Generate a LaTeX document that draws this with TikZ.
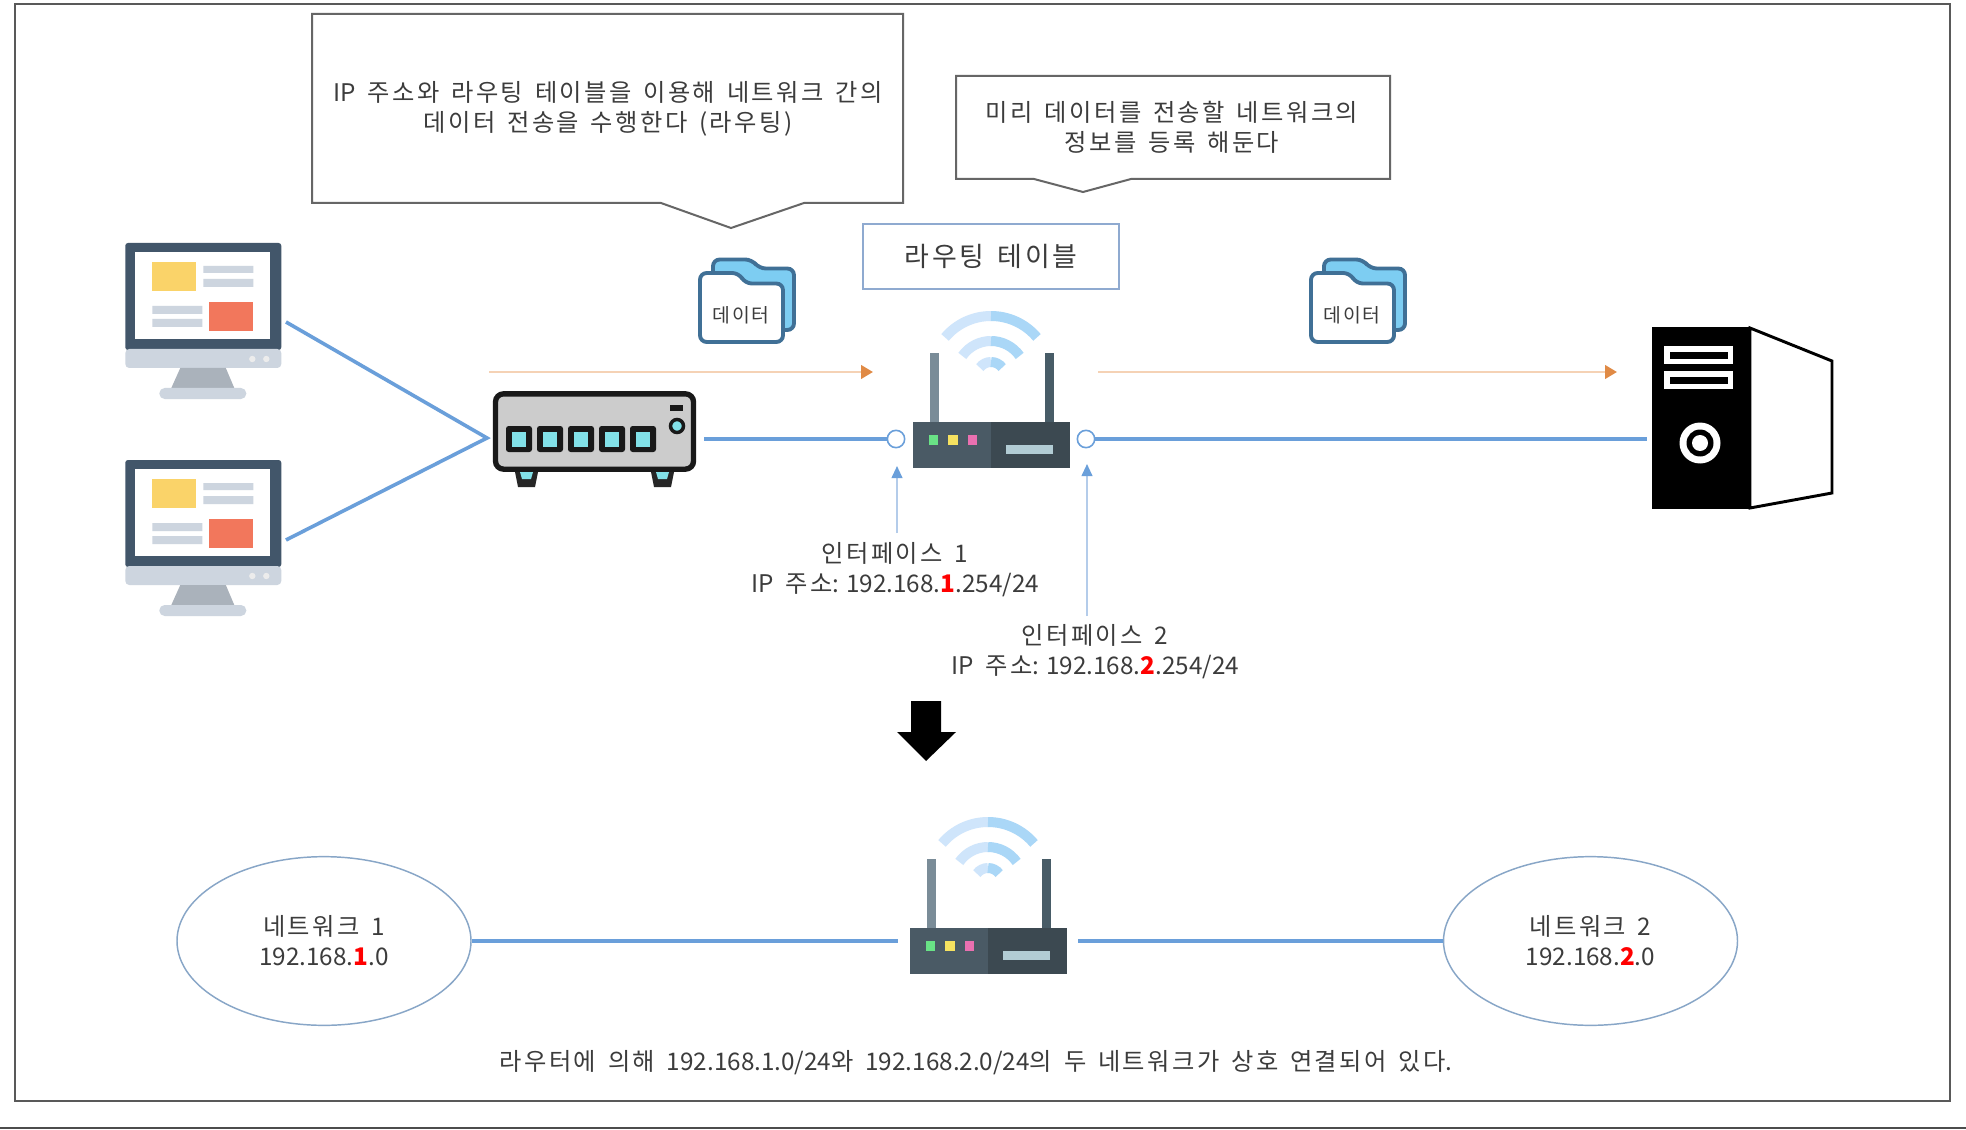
\documentclass[tikz,border=0pt]{standalone}
\usepackage{fontspec}
\setmainfont{Noto Sans CJK KR}[LetterSpace=10,WordSpace=1.5]
\newfontfamily\lat{Noto Sans CJK KR}
\usetikzlibrary{shapes.geometric,arrows.meta}
\definecolor{wire}{HTML}{6A9FDA}
\definecolor{txt}{HTML}{3C3C3C}
\definecolor{orangeline}{HTML}{F5D2B5}
\definecolor{orangetip}{HTML}{E08A45}
\definecolor{thinblue}{HTML}{B4CCEA}
\definecolor{thintip}{HTML}{6A9FDA}
\newcommand{\rd}[1]{\textcolor{red}{\lat\bfseries #1}}
\tikzset{
  lbl/.style={text=txt,font=\fontsize{18.2pt}{22.5pt}\selectfont,align=center,inner sep=0pt},
  wireline/.style={draw=wire,line width=2.7pt},
  flow/.style={draw=orangeline,line width=2.2pt,-{Triangle[length=9pt,width=10pt,color=orangetip]}},
  pointer/.style={draw=thinblue,line width=1.4pt,-{Triangle[length=9pt,width=8pt,color=thintip]}},
  callout/.style={draw=black!60,fill=white,line width=1.5pt,line join=miter},
  port/.style={circle,draw=wire,fill=white,line width=1.2pt,minimum size=13pt,inner sep=0pt},
  netell/.style={ellipse,draw=wire!80!black!70,line width=1.1pt,minimum width=220.5pt,minimum height=126.5pt,inner sep=0pt,text=txt,font=\fontsize{18.2pt}{22.5pt}\selectfont,align=center},
}
\newcommand{\monitor}[2]{% name, y shift
 \begin{scope}[shift={(-0.7,#2)}]
  \fill[color={rgb,255:red,66;green,86;blue,106},rounded corners=2pt] (126,243) rectangle (282,350);
  \fill[color={rgb,255:red,205;green,213;blue,223},rounded corners=3pt] (126,349) rectangle (282,368);
  \fill[white] (136,252) rectangle (271,339);
  \fill[color={rgb,255:red,250;green,211;blue,105}] (152.5,262) rectangle (197,291);
  \fill[color={rgb,255:red,205;green,213;blue,223}] (204,266) rectangle (254,273) (204,279) rectangle (254,287) (153,306) rectangle (203,314) (153,319) rectangle (203,327);
  \fill[color={rgb,255:red,242;green,119;blue,92}] (210,302) rectangle (254,331);
  \fill[white!85!gray] (253,359) circle (3.2) (267,359) circle (3.2);
  \fill[color={rgb,255:red,170;green,178;blue,187}] (181,368) -- (226.5,368) -- (235,388) -- (172,388) -- cycle;
  \fill[color={rgb,255:red,205;green,213;blue,223},rounded corners=4pt] (160,388) rectangle (247,399);
  \coordinate (#1) at (204,320);
 \end{scope}}
\newcommand{\router}[3]{% name, x, y : offset from upper router
 \begin{scope}[shift={(#2,#3)}]
  \fill[color={rgb,255:red,122;green,140;blue,152}] (930,353) rectangle (939,422);
  \fill[color={rgb,255:red,72;green,92;blue,103}] (1044.5,353) rectangle (1053.5,422);
  \fill[color={rgb,255:red,74;green,90;blue,101}] (913,422) rectangle (991,468);
  \fill[color={rgb,255:red,60;green,73;blue,81}] (991,422) rectangle (1070,468);
  \fill[color={rgb,255:red,105;green,226;blue,134}] (928.5,435) rectangle (937.5,445);
  \fill[color={rgb,255:red,246;green,226;blue,96}] (948,435) rectangle (958,445);
  \fill[color={rgb,255:red,234;green,112;blue,176}] (967.5,435) rectangle (977,445);
  \fill[color={rgb,255:red,178;green,204;blue,212}] (1006,445) rectangle (1053,454);
  \foreach \rr/\ang in {60/50,35/55,14/53}{
    \draw[color={rgb,255:red,207;green,229;blue,251},line width=7.5pt] (991,376) ++(-90-\ang:\rr) arc[start angle=-90-\ang,end angle=-90,radius=\rr];
    \draw[color={rgb,255:red,170;green,215;blue,247},line width=7.5pt] (991,376) ++(-90:\rr) arc[start angle=-90,end angle=-90+\ang,radius=\rr];
  }
  \coordinate (#1) at (991,445);
 \end{scope}}
\newcommand{\folder}[2]{% name, x shift
 \begin{scope}[shift={(#2,0)}]
  \draw[fill={rgb,255:red,125;green,205;blue,242},draw={rgb,255:red,64;green,112;blue,150},line width=2.9pt,rounded corners=5pt]
    (713,300) -- (713,259.5) -- (752,259.5) -- (759,268.5) -- (794,268.5) -- (794,330) -- (760,330) -- cycle;
  \draw[fill=white,draw={rgb,255:red,64;green,112;blue,150},line width=2.9pt,rounded corners=5pt]
    (700,342) -- (700,273) -- (739,273) -- (745,283.5) -- (783,283.5) -- (783,342) -- cycle;
  \node[lbl,font=\fontsize{14.5pt}{16pt}\selectfont] (#1) at (741,315) {데이터};
 \end{scope}}
\begin{document}
\begin{tikzpicture}[x=0.75pt,y=-0.75pt]
\useasboundingbox (0,0) rectangle (1966,1130);
\fill[white] (0,0) rectangle (1966,1130);
% frame
\draw[black!65,line width=1.5pt] (15,4) rectangle (1950,1101);
\draw[black!70,line width=1.5pt] (0,1128) -- (1966,1128);

% callouts
\draw[callout] (312,14) -- (903,14) -- (903,203) -- (804,203) -- (731,228) -- (661,203) -- (312,203) -- cycle;
\node[lbl] (c1) at (608,109) {{\lat IP} 주소와 라우팅 테이블을 이용해 네트워크 간의\\데이터 전송을 수행한다 (라우팅)};
\draw[callout] (956,76) -- (1390,76) -- (1390,179) -- (1131,179) -- (1083,192) -- (1034,179) -- (956,179) -- cycle;
\node[lbl] (c2) at (1172,127.5) {미리 데이터를 전송할 네트워크의\\정보를 등록 해둔다};
\node[draw={rgb,255:red,143;green,170;blue,208},line width=1.3pt,minimum width=192pt,minimum height=48.75pt,inner sep=0pt,text=txt,font=\fontsize{20.2pt}{24pt}\selectfont] (table) at (991,256.5) {\raisebox{1pt}{라우팅 테이블}};

% monitors
\monitor{mon1}{0}
\monitor{mon2}{217}
\coordinate (m1out) at (286,322);
\coordinate (m2out) at (286,540);
\coordinate (swin) at (487,438);
\draw[wireline] (m1out) -- (swin) -- (m2out);

% switch
\fill[black!85] (515,472) -- (538,472) -- (535,487) -- (518,487) -- cycle;
\fill[black!85] (651,472) -- (674,472) -- (671,487) -- (654,487) -- cycle;
\fill[color={rgb,255:red,130;green,225;blue,232}] (520,472) -- (533,472) -- (531,479) -- (522,479) -- cycle;
\fill[color={rgb,255:red,130;green,225;blue,232}] (656,472) -- (669,472) -- (667,479) -- (658,479) -- cycle;
\node[draw=black!90,fill=black!20,line width=4pt,rounded corners=6pt,minimum width=148.5pt,minimum height=56.5pt,inner sep=0pt] (sw) at (594.5,431.5) {};
\foreach \px in {519,550,581,612,643}{
  \fill[black!90,rounded corners=2pt] (\px-13,426) rectangle (\px+13,452);
  \fill[color={rgb,255:red,130;green,225;blue,232}] (\px-7,432) rectangle (\px+7,447);
}
\fill[black!90] (670,405) rectangle (683,411);
\draw[black!90,fill={rgb,255:red,130;green,225;blue,232},line width=2.6pt] (677,426) circle (6.5);

% routers
\router{r1}{0}{0}
\router{r2}{-3}{506}

% folders
\folder{f1}{0}
\folder{f2}{611}

% flow arrows
\coordinate (a1s) at (489,372); \coordinate (a1e) at (873,372);
\coordinate (a2s) at (1098,372); \coordinate (a2e) at (1617,372);
\draw[flow] (a1s) -- (a1e);
\draw[flow] (a2s) -- (a2e);

% interfaces and wire
\node[port] (if1) at (896,439) {};
\node[port] (if2) at (1086,439) {};
\coordinate (swout) at (704,439);
\coordinate (srvin) at (1647,439);
\draw[wireline] (swout) -- (if1);
\draw[wireline] (if2) -- (srvin);

% server
\draw[black,fill=white,line width=2.2pt,line join=miter] (1750,328) -- (1832,361) -- (1832,493) -- (1750,508) -- cycle;
\fill[black] (1652,327) rectangle (1750,509);
\draw[white,line width=4pt] (1667,349) rectangle (1730.5,361.5);
\draw[white,line width=4pt] (1667,374) rectangle (1730.5,386.5);
\fill[white] (1700,443) circle (20.5);
\fill[black] (1700,443) circle (13.5);
\fill[white] (1700,443) circle (8);

% labels and pointers
\node[lbl] (l1) at (895,569.5) {인터페이스 {\lat 1}\\{\lat IP} 주소{\lat: 192.168.}\rd{1}{\lat .254/24}};
\node[lbl] (l2) at (1095,651.5) {인터페이스 {\lat 2}\\{\lat IP} 주소{\lat: 192.168.}\rd{2}{\lat .254/24}};
\coordinate (p1s) at (897,533); \coordinate (p1e) at (897,466);
\coordinate (p2s) at (1087,616); \coordinate (p2e) at (1087,464);
\draw[pointer] (p1s) -- (p1e);
\draw[pointer] (p2s) -- (p2e);

% big arrow
\fill[black] (911,701) -- (941,701) -- (941,732) -- (956,732) -- (926,761) -- (897,732) -- (911,732) -- cycle;

% bottom
\node[netell] (n1) at (324,941) {네트워크 {\lat 1}\\{\lat 192.168.}\rd{1}{\lat .0}};
\node[netell] (n2) at (1590.5,941) {네트워크 {\lat 2}\\{\lat 192.168.}\rd{2}{\lat .0}};
\coordinate (r2l) at (898,941); \coordinate (r2r) at (1078,941);
\draw[wireline] (n1) -- (r2l);
\draw[wireline] (r2r) -- (n2);
\node[lbl] (cap) at (976,1063) {라우터에 의해 {\lat 192.168.1.0/24}와 {\lat 192.168.2.0/24}의 두 네트워크가 상호 연결되어 있다{\lat.}};
\end{tikzpicture}
\end{document}
